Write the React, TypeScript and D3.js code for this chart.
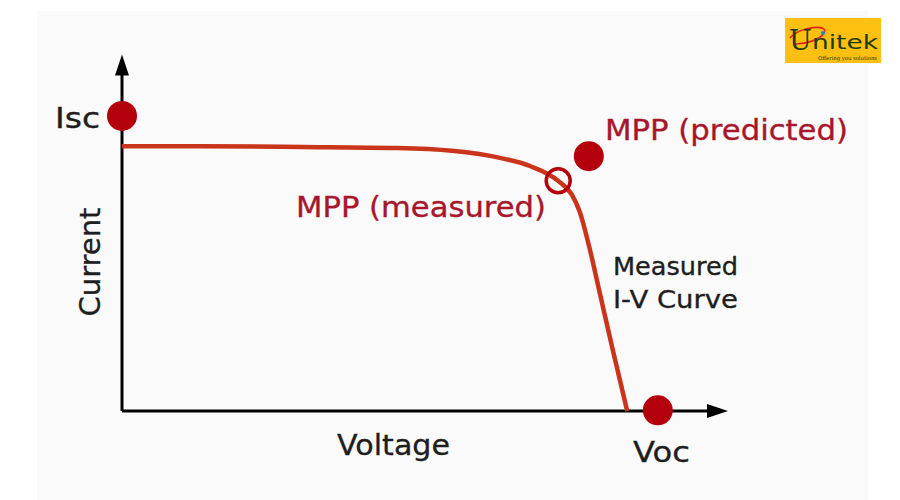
import * as d3 from "d3";

// measured I-V curve (arbitrary units)
const VOLTAGE = [0, 13, 30, 46, 55, 63, 68, 72.7, 75, 76.3, 78, 79.7, 81.8, 84.2];
const CURRENT = [75, 75, 74.8, 74.5, 73.7, 71.7, 69.4, 65.2, 61.2, 56.4, 45.6, 32.9, 17.3, 0];

// marked points
const ISC = { v: 0, i: 83.6 };
const VOC = { v: 89.3, i: 0.2 };
const MPP_PRED = { v: 77.8, i: 72.2 };
const MPP_MEAS = { v: 72.7, i: 65.2 };

const AXIS_MAX = 101;

const W = 900, H = 500;
const FONT = "Tahoma, 'DejaVu Sans', Verdana, sans-serif";
const CURVE = "#c9341a";
const DOT = "#b3000c";
const LABEL_RED = "#a8162c";
const INK = "#1e1e1e";

export default function App() {
  const x = d3.scaleLinear().domain([0, 100]).range([122, 722]);
  const y = d3.scaleLinear().domain([0, 100]).range([411, 58]);

  const pts = VOLTAGE.map((v, k) => [v, CURRENT[k]] as [number, number]);
  const line = d3.line<[number, number]>()
    .x(d => x(d[0])).y(d => y(d[1]))
    .curve(d3.curveMonotoneX);

  const x0 = x(0), y0 = y(0);
  const xEnd = x(AXIS_MAX), yEnd = y(AXIS_MAX);
  const fit = { lengthAdjust: "spacingAndGlyphs" as const };

  return (
    <svg width={W} height={H} style={{ position: "absolute", left: 0, top: 0, background: "#fff" }}
      fontFamily={FONT}>
      <rect x={37} y={11} width={831} height={489} fill="#fafafa" />

      {/* axes */}
      <line x1={x0} y1={y0} x2={xEnd - 14} y2={y0} stroke="#000" strokeWidth={3} />
      <line x1={x0} y1={y0} x2={x0} y2={yEnd + 14} stroke="#000" strokeWidth={3} />
      <path d={`M${xEnd},${y0} L${xEnd - 21},${y0 - 7} L${xEnd - 21},${y0 + 7} Z`} fill="#000" />
      <path d={`M${x0},${yEnd} L${x0 - 7},${yEnd + 21} L${x0 + 7},${yEnd + 21} Z`} fill="#000" />

      {/* curve */}
      <path d={line(pts) ?? ""} fill="none" stroke={CURVE} strokeWidth={4.5} strokeLinejoin="round" />

      {/* points */}
      <circle cx={x(ISC.v)} cy={y(ISC.i)} r={15} fill={DOT} />
      <circle cx={x(VOC.v)} cy={y(VOC.i)} r={15} fill={DOT} />
      <circle cx={x(MPP_PRED.v)} cy={y(MPP_PRED.i)} r={15} fill={DOT} />
      <circle cx={x(MPP_MEAS.v)} cy={y(MPP_MEAS.i)} r={12} fill="none" stroke={DOT} strokeWidth={3.5} />

      {/* labels */}
      <g stroke="currentColor" strokeWidth={0.35}>
        <text x={55} y={128} fontSize={28} fill={INK} color={INK} textLength={45} {...fit}>Isc</text>
        <text transform="translate(100,262) rotate(-90)" fontSize={29} fill={INK} color={INK} textAnchor="middle">Current</text>
        <text x={337} y={455} fontSize={29} fill={INK} color={INK} textLength={113} {...fit}>Voltage</text>
        <text x={633} y={462} fontSize={29} fill={INK} color={INK} textLength={57} {...fit}>Voc</text>
        <text x={605} y={140} fontSize={28.5} fill={LABEL_RED} color={LABEL_RED} textLength={243} {...fit}>MPP (predicted)</text>
        <text x={296} y={217} fontSize={29} fill={LABEL_RED} color={LABEL_RED} textLength={250} {...fit}>MPP (measured)</text>
        <text x={613} y={275} fontSize={25.5} fill={INK} color={INK} textLength={125} {...fit}>Measured</text>
        <text x={613} y={308} fontSize={25.5} fill={INK} color={INK} textLength={125} {...fit}>I-V Curve</text>
      </g>

      {/* logo */}
      <g>
        <rect x={785} y={18} width={96} height={45} fill="#fdc010" />
        <path d="M790,38 C800,26 830,24 824,33 C820,40 805,44 796,44" fill="none" stroke="#e3261c" strokeWidth={1.6} />
        <text x={789} y={50} fontSize={27} fill="#1c3a14" fontFamily="'DejaVu Serif', serif">U</text>
        <text x={812} y={49} fontSize={19} fill="#1c3a14" textLength={66} {...fit}
          fontFamily="'DejaVu Sans', sans-serif">nitek</text>
        <circle cx={823} cy={33} r={2} fill="#2a7fd0" />
        <text x={818} y={60} fontSize={5.5} fill="#1c3a14" textLength={59} {...fit}
          fontFamily="'DejaVu Serif', serif">Offering you solutions</text>
      </g>
    </svg>
  );
}
